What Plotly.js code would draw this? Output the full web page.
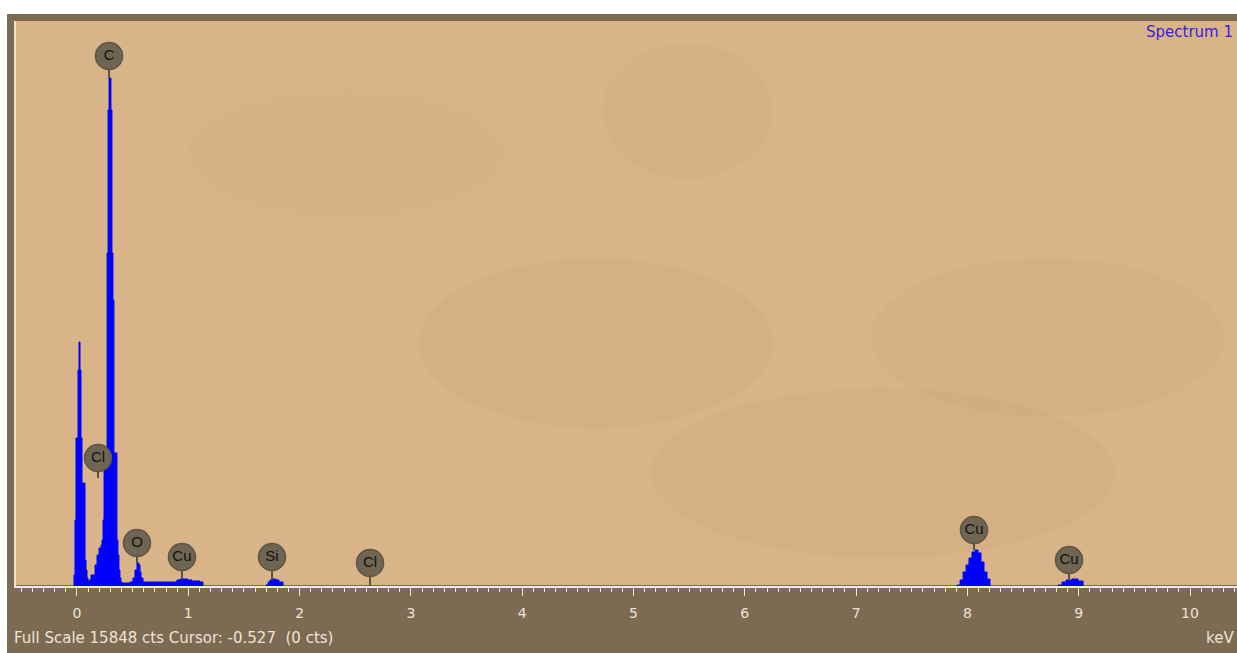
<!DOCTYPE html>
<html>
<head>
<meta charset="utf-8">
<script src="https://cdn.plot.ly/plotly-3.0.1.min.js"></script>
<style>
  html, body { margin: 0; padding: 0; background: #ffffff; width: 1237px; height: 653px; overflow: hidden; }
  #chart { position: absolute; left: 7px; top: 14px; width: 1230px; height: 639px; }
</style>
</head>
<body>
<div id="chart"></div>
<script>
// Spectrum: energy (keV) vs counts (step profile)
const energy = [
  -0.548, -0.036, -0.027, -0.018, -0.009, 0.000, 0.009, 0.018, 0.027, 0.036,
  0.045, 0.054, 0.063, 0.072, 0.081, 0.090, 0.099, 0.108, 0.126, 0.144,
  0.162, 0.180, 0.198, 0.216, 0.225, 0.234, 0.243, 0.252, 0.261, 0.270,
  0.279, 0.288, 0.297, 0.305, 0.314, 0.323, 0.332, 0.341, 0.350, 0.359,
  0.368, 0.377, 0.386, 0.395, 0.404,
  0.476, 0.503, 0.521, 0.539, 0.557, 0.566, 0.575, 0.593,
  0.898, 0.925, 0.997, 1.033, 1.105, 1.132,
  1.698, 1.716, 1.734, 1.761, 1.788, 1.815, 1.851,
  7.907, 7.934, 7.961, 7.988, 8.014, 8.041, 8.068, 8.095, 8.122, 8.149, 8.176, 8.203,
  8.814, 8.850, 8.886, 8.940, 8.994, 9.039,
  10.422
];
const counts = [
  0, 0, 309, 1851, 4151, 4151, 6059, 6844, 6059, 4151,
  2889, 2889, 2889, 729, 449, 224, 112, 168, 309, 309,
  589, 870, 1066, 1150, 1290, 1851, 3731, 3731, 3731, 9341,
  13352, 14249, 14249, 13352, 9341, 8022, 3731, 3731, 3731, 1290,
  870, 449, 224, 112, 84,
  112, 224, 449, 645, 589, 393, 224, 112,
  168, 196, 168, 140, 112, 0,
  28, 112, 168, 196, 168, 112, 0,
  28, 168, 393, 589, 785, 954, 1010, 926, 673, 393, 196, 0,
  28, 112, 168, 196, 140, 0,
  0
];

// Element markers
const labelNames  = ["C", "Cl", "O", "Cu", "Si", "Cl", "Cu", "Cu"];
const labelEnergy = [0.288, 0.189, 0.539, 0.943, 1.752, 2.633, 8.059, 8.913];
const labelHeight = [14867, 3590, 1206, 813, 813, 645, 1571, 729];
const stemBottom  = [14249, 3029, 645, 196, 168, 0, 1010, 168];

const fullScale = 15848;
const tickVals = [0,1,2,3,4,5,6,7,8,9,10];
const tickText = ["0","1","2","3","4","5","6","7","8","9","10"];

const stemX = [], stemY = [];
labelEnergy.forEach((e, i) => {
  stemX.push(e, e, null);
  stemY.push(labelHeight[i], stemBottom[i], null);
});

const traces = [
  {
    x: energy, y: counts, type: 'scatter', mode: 'lines',
    line: { shape: 'hv', color: '#0000ff', width: 1 },
    fill: 'tozeroy', fillcolor: '#0000ff', hoverinfo: 'skip'
  },
  {
    x: stemX, y: stemY, type: 'scatter', mode: 'lines',
    line: { color: '#5a5040', width: 2 }, hoverinfo: 'skip'
  },
  {
    x: labelEnergy, y: labelHeight, type: 'scatter', mode: 'markers+text',
    text: labelNames, textposition: 'middle center',
    textfont: { family: 'Liberation Sans, Arial, sans-serif', size: 15, color: '#111111' },
    marker: { size: 27, color: '#6f6552', line: { color: '#5e5545', width: 1.5 } },
    hoverinfo: 'skip'
  }
];

const light = '#ece4d6';
const wide = 'DejaVu Sans, Verdana, sans-serif';
const shade = (x0, x1, y0, y1, op) => ({ type: 'circle', xref: 'paper', yref: 'paper', x0, x1, y0, y1,
  fillcolor: '#8a6a45', opacity: op, line: { width: 0 }, layer: 'below' });

const layout = {
  width: 1230, height: 639,
  margin: { l: 9, r: 0, t: 7, b: 67, pad: 0 },
  paper_bgcolor: '#7c6b52',
  plot_bgcolor: '#d9b488',
  showlegend: false,
  font: { family: 'Liberation Sans, Arial, sans-serif', color: light },
  xaxis: {
    range: [-0.548, 10.422], tickvals: tickVals, ticktext: tickText,
    ticks: 'outside', ticklen: 8, tickwidth: 1, tickcolor: light,
    minor: { dtick: 0.1, tick0: 0, ticks: 'outside', ticklen: 4, tickcolor: light, tickwidth: 1 },
    tickfont: { family: wide, size: 14, color: light }, ticklabelstandoff: 5,
    showline: true, linecolor: '#f4ece0', linewidth: 2,
    showgrid: false, zeroline: false, fixedrange: true
  },
  yaxis: {
    range: [0, fullScale], showticklabels: false, ticks: '',
    showline: true, linecolor: '#f0e4d0', linewidth: 2,
    showgrid: false, zeroline: false, fixedrange: true
  },
  shapes: [
    shade(0.48, 0.62, 0.72, 0.96, 0.035),
    shade(0.33, 0.62, 0.28, 0.58, 0.04),
    shade(0.52, 0.90, 0.05, 0.35, 0.04),
    shade(0.70, 0.99, 0.30, 0.58, 0.035),
    shade(0.14, 0.40, 0.65, 0.88, 0.02)
  ],
  annotations: [
    { text: 'Spectrum 1', xref: 'paper', yref: 'paper', x: 1, y: 0.981, xanchor: 'right', yanchor: 'middle', xshift: -2,
      showarrow: false, font: { family: wide, size: 15, color: '#3a22d6' } },
    { text: 'Full Scale 15848 cts Cursor: -0.527  (0 cts)', xref: 'paper', yref: 'paper', x: 0, y: -0.092, xanchor: 'left', yanchor: 'middle', xshift: -4,
      showarrow: false, font: { family: wide, size: 15, color: light } },
    { text: 'keV', xref: 'paper', yref: 'paper', x: 1, y: -0.092, xanchor: 'right', yanchor: 'middle', xshift: -1,
      showarrow: false, font: { family: wide, size: 15, color: light } }
  ]
};

Plotly.newPlot('chart', traces, layout, { displayModeBar: false, staticPlot: true });
</script>
</body>
</html>
